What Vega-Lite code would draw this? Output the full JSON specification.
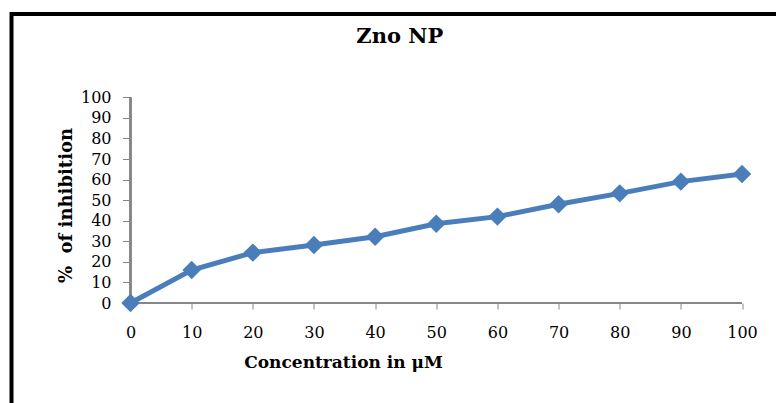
{
  "$schema": "https://vega.github.io/schema/vega-lite/v6.json",
  "autosize": {"type": "none"},
  "padding": {"left": 11.5, "top": 14, "right": -4, "bottom": -6},
  "width": 768.5,
  "height": 395,
  "background": "white",
  "title": {"text": "Zno NP", "font": "DejaVu Serif", "fontSize": 21, "fontWeight": "bold", "color": "black", "anchor": "middle", "frame": "group", "baseline": "alphabetic", "offset": 0, "dy": 50, "dx": 4},
  "config": {
    "view": {"stroke": "black", "strokeWidth": 4},
    "axis": {"grid": false, "domain": false, "tickColor": "#868686", "tickWidth": 1,
      "labelFont": "DejaVu Serif", "labelFontSize": 16, "labelColor": "black", "labelOverlap": false,
      "titleFont": "DejaVu Serif", "titleFontSize": 17, "titleFontWeight": "bold", "titleColor": "black", "titleBaseline": "alphabetic", "titleAlign": "center"}
  },
  "data": {"values": [
    {"concentration": 0, "inhibition": 0},
    {"concentration": 10, "inhibition": 16},
    {"concentration": 20, "inhibition": 24.5},
    {"concentration": 30, "inhibition": 28.2},
    {"concentration": 40, "inhibition": 32.2},
    {"concentration": 50, "inhibition": 38.5},
    {"concentration": 60, "inhibition": 42},
    {"concentration": 70, "inhibition": 48},
    {"concentration": 80, "inhibition": 53.3},
    {"concentration": 90, "inhibition": 59},
    {"concentration": 100, "inhibition": 62.7}
  ]},
  "layer": [
    {
      "mark": {"type": "rule", "color": "#868686", "strokeWidth": 1.5},
      "encoding": {
        "x": {"datum": 0, "axis": {"title": "Concentration in μM", "values": [0,10,20,30,40,50,60,70,80,90,100], "offset": -106, "tickSize": 6, "labelPadding": 15, "labelFlush": false, "titleX": 331.5, "titleY": 64}},
        "x2": {"datum": 100},
        "y": {"datum": 0, "axis": {"title": "%\u00a0 of inhibition", "values": [0,10,20,30,40,50,60,70,80,90,100], "offset": -119, "tickSize": 8, "labelPadding": 11.5, "labelBaseline": "middle", "titleX": -59.5, "titleY": 191, "titleAngle": -90, "titleFontSize": 18}}
      }
    },
    {
      "mark": {"type": "rule", "color": "#868686", "strokeWidth": 1.5},
      "encoding": {
        "x": {"datum": 0, "axis": {"title": "Concentration in μM", "values": [0,10,20,30,40,50,60,70,80,90,100], "offset": -106, "tickSize": 6, "labelPadding": 15, "labelFlush": false, "titleX": 331.5, "titleY": 64}},
        "y": {"datum": 0, "axis": {"title": "%\u00a0 of inhibition", "values": [0,10,20,30,40,50,60,70,80,90,100], "offset": -119, "tickSize": 8, "labelPadding": 11.5, "labelBaseline": "middle", "titleX": -59.5, "titleY": 191, "titleAngle": -90, "titleFontSize": 18}},
        "y2": {"datum": 100}
      }
    },
    {
      "mark": {"type": "line", "color": "#4a7ebb", "strokeWidth": 5, "point": {"shape": "diamond", "size": 340, "filled": true, "color": "#4a7ebb", "opacity": 1}},
      "encoding": {
        "x": {"field": "concentration", "type": "quantitative",
          "scale": {"domain": [-19.46, 106.21], "nice": false, "zero": false},
          "axis": {"title": "Concentration in μM", "values": [0,10,20,30,40,50,60,70,80,90,100], "offset": -106, "tickSize": 6, "labelPadding": 15, "labelFlush": false, "titleX": 331.5, "titleY": 64}},
        "y": {"field": "inhibition", "type": "quantitative",
          "scale": {"domain": [-51.53, 140.5], "nice": false, "zero": false},
          "axis": {"title": "%\u00a0 of inhibition", "values": [0,10,20,30,40,50,60,70,80,90,100], "offset": -119, "tickSize": 8, "labelPadding": 11.5, "labelBaseline": "middle", "titleX": -59.5, "titleY": 191, "titleAngle": -90, "titleFontSize": 18}}
      }
    }
  ]
}
